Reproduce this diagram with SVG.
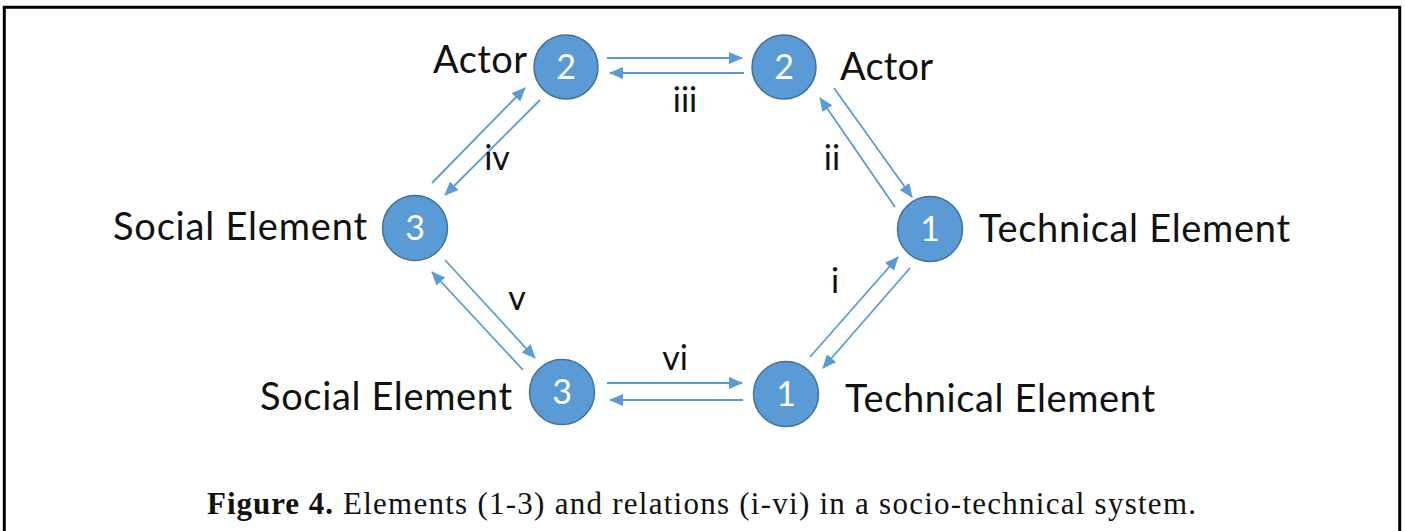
<svg xmlns="http://www.w3.org/2000/svg" width="1405" height="531" viewBox="0 0 1405 531">
  <style>
    .node circle { fill: #5B9BD5; stroke: #41719C; stroke-width: 1.5; }
    .num { font-family: Lato, "Open Sans", sans-serif; font-size: 34px; fill: #ffffff; text-anchor: middle; }
    .lbl { font-family: Lato, "Open Sans", sans-serif; font-size: 38px; fill: #111111; }
    .rel { font-family: Lato, "Open Sans", sans-serif; font-size: 34px; fill: #111111; text-anchor: middle; }
    .conn line { stroke: #5B9BD5; stroke-width: 1.8; marker-end: url(#head); }
    .cap { font-family: "Liberation Serif", "DejaVu Serif", serif; font-size: 31px; fill: #111111; }
  </style>
  <defs>
    <marker id="head" markerUnits="userSpaceOnUse" markerWidth="16" markerHeight="14" refX="13" refY="6" orient="auto">
      <path d="M0,0 L14,6 L0,12 z" fill="#5B9BD5"/>
    </marker>
  </defs>

  <rect width="1405" height="531" fill="#ffffff"/>

  <!-- frame -->
  <path d="M4.3,531 V7.3 H1399.7 V531" fill="none" stroke="#000000" stroke-width="3"/>

  <!-- connectors -->
  <g id="connectors" class="conn">
    <!-- iii -->
    <line x1="607" y1="58" x2="742" y2="58"/>
    <line x1="744" y1="73" x2="610" y2="73"/>
    <!-- iv -->
    <line x1="432" y1="183" x2="525" y2="88"/>
    <line x1="540" y1="100" x2="445" y2="195"/>
    <!-- ii -->
    <line x1="834" y1="88" x2="912" y2="197"/>
    <line x1="895" y1="207" x2="820" y2="98"/>
    <!-- i -->
    <line x1="810" y1="357" x2="898" y2="257"/>
    <line x1="910" y1="268" x2="823" y2="368"/>
    <!-- v -->
    <line x1="445" y1="260" x2="535" y2="358"/>
    <line x1="523" y1="370" x2="432" y2="272"/>
    <!-- vi -->
    <line x1="607" y1="383" x2="742" y2="383"/>
    <line x1="743" y1="400" x2="610" y2="400"/>
  </g>

  <!-- relation labels -->
  <g id="relations">
    <text class="rel" x="685" y="112">iii</text>
    <text class="rel" x="497" y="170">iv</text>
    <text class="rel" x="832" y="170">ii</text>
    <text class="rel" x="835" y="293">i</text>
    <text class="rel" x="517" y="310">v</text>
    <text class="rel" x="675" y="370">vi</text>
  </g>

  <!-- nodes -->
  <g id="actor-left" class="node">
    <circle cx="566" cy="67" r="32"/>
    <text class="num" x="566" y="79">2</text>
    <text class="lbl" x="433" y="73" textLength="94">Actor</text>
  </g>
  <g id="actor-right" class="node">
    <circle cx="784" cy="67" r="32"/>
    <text class="num" x="784" y="79">2</text>
    <text class="lbl" x="840" y="80" textLength="93">Actor</text>
  </g>
  <g id="social-mid" class="node">
    <circle cx="415" cy="228" r="32.5"/>
    <text class="num" x="415" y="240">3</text>
    <text class="lbl" x="113" y="240" textLength="254">Social Element</text>
  </g>
  <g id="technical-mid" class="node">
    <circle cx="930" cy="229" r="32.5"/>
    <text class="num" x="930" y="241">1</text>
    <text class="lbl" x="979" y="242" textLength="311">Technical Element</text>
  </g>
  <g id="social-bottom" class="node">
    <circle cx="562" cy="392" r="32.5"/>
    <text class="num" x="562" y="404">3</text>
    <text class="lbl" x="260" y="410" textLength="252">Social Element</text>
  </g>
  <g id="technical-bottom" class="node">
    <circle cx="786" cy="394" r="32.5"/>
    <text class="num" x="786" y="406">1</text>
    <text class="lbl" x="845" y="412" textLength="310">Technical Element</text>
  </g>

  <!-- caption -->
  <g id="caption">
    <text class="cap" x="207" y="514" font-weight="bold" textLength="126">Figure 4.</text>
    <text class="cap" x="343" y="514" textLength="853">Elements (1-3) and relations (i-vi) in a socio-technical system.</text>
  </g>
</svg>
